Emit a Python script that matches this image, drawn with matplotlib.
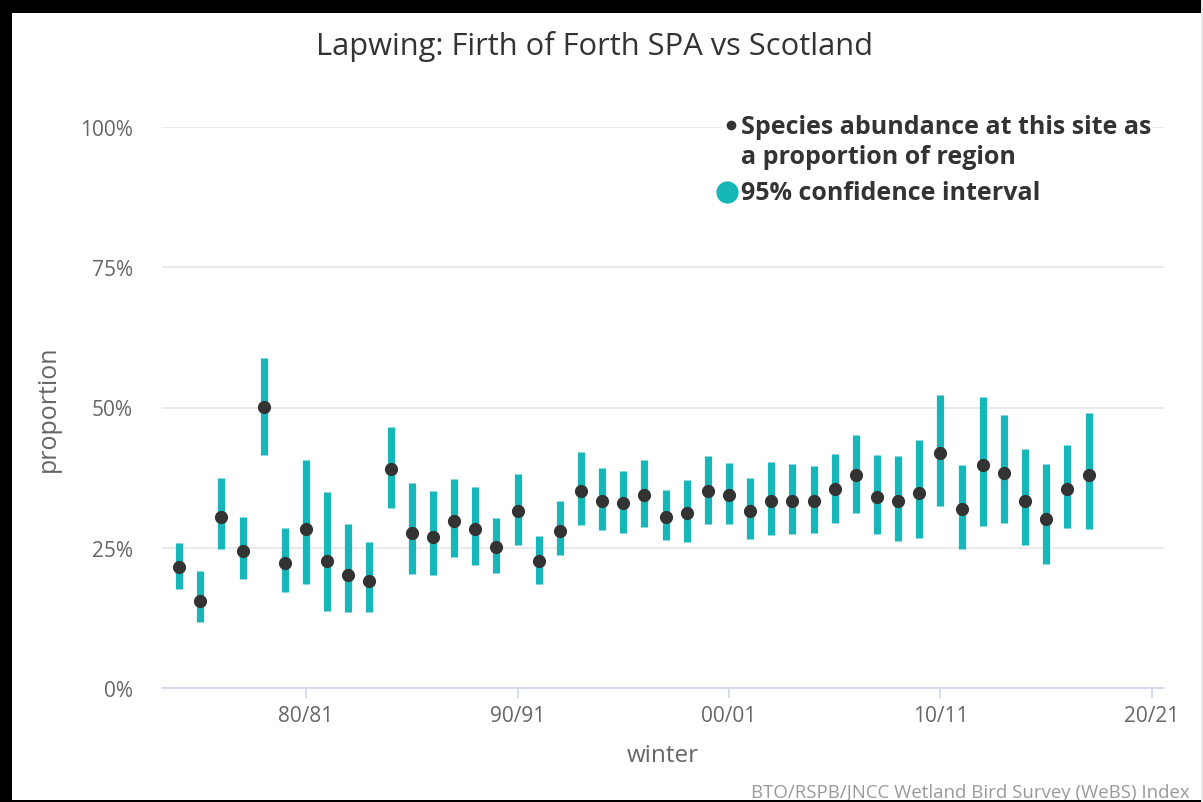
import matplotlib
matplotlib.use("Agg")
import matplotlib.pyplot as plt
from matplotlib.lines import Line2D
from matplotlib.patches import Rectangle

plt.rcParams["font.family"] = ["Open Sans", "DejaVu Sans"]

# Winter start years (1974 = 74/75 ... 2017 = 17/18)
winters = list(range(1974, 2018))

# Site abundance as a proportion of the Scottish total
proportion = [
    0.216, 0.155, 0.305, 0.245, 0.501, 0.223, 0.283, 0.226, 0.201, 0.191,
    0.391, 0.277, 0.269, 0.298, 0.284, 0.251, 0.316, 0.226, 0.280, 0.351,
    0.333, 0.330, 0.344, 0.305, 0.312, 0.351, 0.344, 0.316, 0.333, 0.333,
    0.333, 0.355, 0.380, 0.340, 0.333, 0.347, 0.419, 0.319, 0.398, 0.383,
    0.334, 0.301, 0.355, 0.380,
]

# 95% confidence interval bounds
ci_low = [
    0.176, 0.117, 0.247, 0.195, 0.416, 0.171, 0.185, 0.138, 0.136, 0.136,
    0.321, 0.203, 0.201, 0.234, 0.219, 0.205, 0.255, 0.185, 0.237, 0.291,
    0.282, 0.276, 0.287, 0.264, 0.260, 0.293, 0.293, 0.265, 0.273, 0.275,
    0.277, 0.294, 0.312, 0.274, 0.262, 0.267, 0.324, 0.248, 0.289, 0.294,
    0.255, 0.221, 0.285, 0.283,
]
ci_high = [
    0.259, 0.208, 0.375, 0.304, 0.589, 0.285, 0.407, 0.350, 0.292, 0.260,
    0.465, 0.366, 0.351, 0.373, 0.359, 0.303, 0.381, 0.271, 0.333, 0.421,
    0.392, 0.387, 0.406, 0.353, 0.371, 0.413, 0.401, 0.374, 0.403, 0.399,
    0.395, 0.418, 0.451, 0.415, 0.413, 0.442, 0.523, 0.397, 0.518, 0.486,
    0.426, 0.399, 0.433, 0.491,
]

y_ticks = [0, 0.25, 0.5, 0.75, 1.0]
y_tick_labels = ["0%", "25%", "50%", "75%", "100%"]
x_ticks = [1980, 1990, 2000, 2010, 2020]
x_tick_labels = ["80/81", "90/91", "00/01", "10/11", "20/21"]

TEAL = "#17b7b9"
DOT = "#333333"
W, H = 1203, 803

fig = plt.figure(figsize=(W / 100, H / 100), dpi=100)
fig.patch.set_facecolor("white")

# plot area in pixel coordinates
left, right, top, bottom = 162, 1164, 128, 689
ax = fig.add_axes([left / W, 1 - bottom / H, (right - left) / W, (bottom - top) / H])
ax.set_xlim(1973.19, 2020.57)
ax.set_ylim(0, 1.0)

ax.vlines(winters, ci_low, ci_high, colors=TEAL, linewidth=5.2, zorder=3)
ax.plot(winters, proportion, linestyle="none", marker="o", markersize=9.5,
        color=DOT, markeredgewidth=0, zorder=4)

for s in ["left", "right", "top"]:
    ax.spines[s].set_visible(False)
ax.spines["bottom"].set_color("#ccd6eb")
ax.spines["bottom"].set_linewidth(1.2)

ax.set_yticks(y_ticks)
ax.set_yticklabels(y_tick_labels)
ax.set_xticks(x_ticks)
ax.set_xticklabels(x_tick_labels)
ax.tick_params(axis="y", length=0, pad=21, labelsize=15, labelcolor="#666666")
ax.tick_params(axis="x", length=7.5, width=1.2, color="#ccd6eb", pad=5,
               labelsize=15, labelcolor="#666666")
ax.grid(axis="y", color="#e6e6e6", linewidth=1.2, zorder=0)
ax.set_axisbelow(True)

ax.set_ylabel("proportion", fontsize=18, color="#666666", labelpad=14)
ax.set_xlabel("winter", fontsize=17.5, color="#666666", labelpad=12)

fig.text(595 / W, 1 - 46 / H, "Lapwing: Firth of Forth SPA vs Scotland",
         ha="center", va="center", fontsize=22.2, color="#333333")

# legend panel
fig.patches.append(Rectangle((722 / W, 1 - 210 / H), (1152 - 722) / W, 100 / H,
                             transform=fig.transFigure, facecolor="white",
                             edgecolor="none", zorder=2))
fig.add_artist(Line2D([731 / W], [1 - 126 / H], marker="o", markersize=7,
                      color=DOT, markeredgewidth=0, transform=fig.transFigure,
                      zorder=3))
fig.text(741 / W, 1 - 127 / H, "Species abundance at this site as",
         ha="left", va="center", fontsize=18, fontweight="bold",
         color="#333333", zorder=3)
fig.text(741 / W, 1 - 157 / H, "a proportion of region",
         ha="left", va="center", fontsize=18, fontweight="bold",
         color="#333333", zorder=3)
fig.add_artist(Line2D([727 / W], [1 - 193 / H], marker="o", markersize=16,
                      color=TEAL, markeredgewidth=0, transform=fig.transFigure,
                      zorder=3))
fig.text(741 / W, 1 - 194 / H, "95% confidence interval",
         ha="left", va="center", fontsize=18, fontweight="bold",
         color="#333333", zorder=3)

fig.text(1190 / W, 1 - 793 / H, "BTO/RSPB/JNCC Wetland Bird Survey (WeBS) Index",
         ha="right", va="center", fontsize=13.4, color="#999999")

# frame around the chart
fig.patches.append(Rectangle((0, 0), 12 / W, 1, transform=fig.transFigure,
                             facecolor="black", edgecolor="none", zorder=5))
fig.patches.append(Rectangle((0, 1 - 14 / H), 1, 14 / H, transform=fig.transFigure,
                             facecolor="black", edgecolor="none", zorder=5))
fig.patches.append(Rectangle((0, 0), 1, 2 / H, transform=fig.transFigure,
                             facecolor="black", edgecolor="none", zorder=5))
fig.patches.append(Rectangle((1201 / W, 0), 1.5 / W, 1, transform=fig.transFigure,
                             facecolor="#e8e8e8", edgecolor="none", zorder=5))

fig.savefig("out.png", dpi=100)
